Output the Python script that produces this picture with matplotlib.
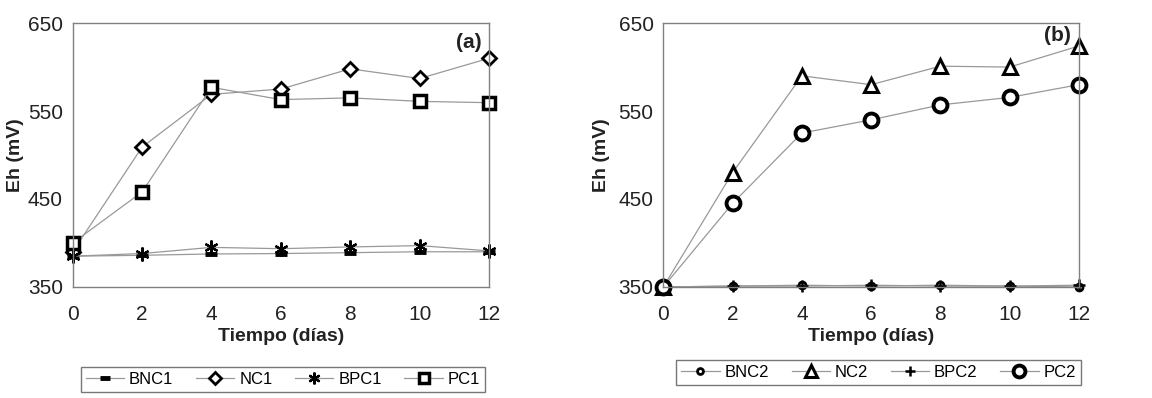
import matplotlib.pyplot as plt

days = [0, 2, 4, 6, 8, 10, 12]

# panel (a)
bnc1 = [385, 386, 387.5, 388, 389, 390, 390]
nc1 = [390, 509, 569, 575, 598, 587, 610]
bpc1 = [385, 388, 395, 393.5, 395.5, 397, 391]
pc1 = [400, 458, 577, 563, 565, 561, 559.5]

# panel (b)
bnc2 = [350, 351, 352, 351, 352, 351, 350]
nc2 = [350, 480, 590, 580, 601, 600, 624]
bpc2 = [350, 351, 351, 352, 351, 351, 352]
pc2 = [350, 445, 525, 540, 557, 565.5, 580]

yticks = [350, 450, 550, 650]
xticks = [0, 2, 4, 6, 8, 10, 12]

plt.rcParams["font.family"] = ["Liberation Sans", "DejaVu Sans"]

LINE = "#999999"
SPINE = "#808080"


def style_axes(ax, tag, tag_xy, ylab_x):
    ax.set_xlim(0, 12)
    ax.set_ylim(350, 650)
    ax.set_xticks(xticks)
    ax.set_yticks(yticks)
    ax.tick_params(length=0, labelsize=15, colors="#222222")
    ax.tick_params(axis="x", pad=13)
    ax.tick_params(axis="y", pad=7)
    for s in ax.spines.values():
        s.set_color(SPINE)
        s.set_linewidth(1.0)
    ax.set_xlabel("Tiempo (días)", fontsize=14, fontweight="bold", color="#222222", labelpad=3)
    ax.set_ylabel("Eh (mV)", fontsize=14, fontweight="bold", color="#222222")
    ax.yaxis.set_label_coords(ylab_x, 0.5)
    ax.text(tag_xy[0], tag_xy[1], tag, fontsize=15, fontweight="bold", ha="right", va="center",
            color="#222222", transform=ax.transAxes)


fig = plt.figure(figsize=(11.52, 3.98), dpi=100)
ax1 = fig.add_axes([0.0631, 0.279, 0.3614, 0.663])
ax2 = fig.add_axes([0.5758, 0.279, 0.3608, 0.663])

common = dict(color=LINE, linewidth=0.9, markeredgecolor="black", markerfacecolor="white", clip_on=False)

ax1.plot(days, bnc1, marker="_", markersize=9, markeredgewidth=3.5, label="BNC1", **common)
ax1.plot(days, nc1, marker="D", markersize=7, markeredgewidth=2, label="NC1", **common)
ax1.plot(days, bpc1, marker=(6, 2, 0), markersize=10, markeredgewidth=1.6, label="BPC1", **common)
ax1.plot(days, pc1, marker="s", markersize=9, markeredgewidth=2.5, label="PC1", **common)

ax2.plot(days, bnc2, marker="o", markersize=5, markeredgewidth=2, label="BNC2", **common)
ax2.plot(days, nc2, marker="^", markersize=10, markeredgewidth=2.2, label="NC2", **common)
ax2.plot(days, bpc2, marker="+", markersize=8, markeredgewidth=1.8, label="BPC2", **common)
ax2.plot(days, pc2, marker="o", markersize=10, markeredgewidth=2.8, label="PC2", **common)

style_axes(ax1, "(a)", (0.983, 0.928), -0.117)
style_axes(ax2, "(b)", (0.981, 0.952), -0.128)

leg_kw = dict(ncol=4, fontsize=12, frameon=True, fancybox=False, edgecolor="#555555",
              handlelength=2.3, columnspacing=1.35, handletextpad=0.3, borderpad=0.3,
              markerscale=0.85)
l1 = fig.legend(handles=ax1.get_lines(), loc="center", bbox_to_anchor=(0.2456, 0.0465), **leg_kw)
l2 = fig.legend(handles=ax2.get_lines(), loc="center", bbox_to_anchor=(0.7627, 0.0640), **leg_kw)
for leg in (l1, l2):
    leg.get_frame().set_linewidth(1.0)

fig.savefig("out.png", dpi=100)
